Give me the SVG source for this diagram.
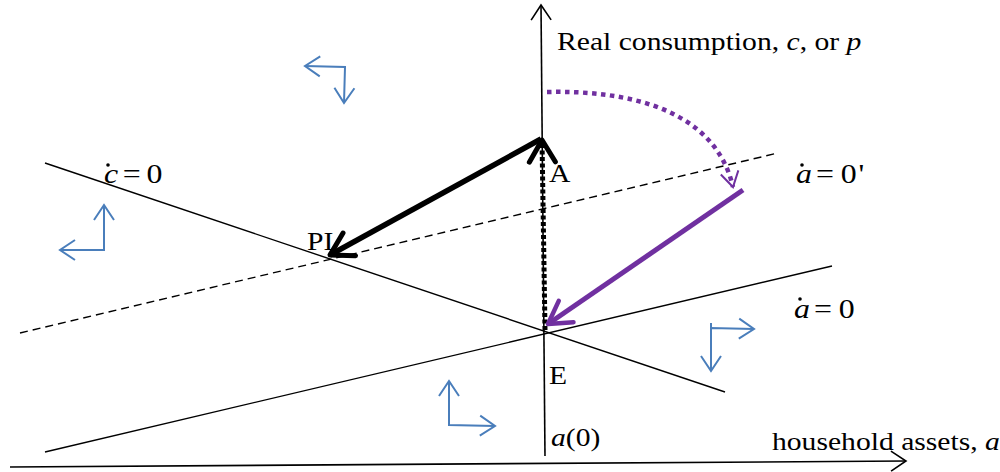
<svg xmlns="http://www.w3.org/2000/svg" width="1000" height="472" viewBox="0 0 1000 472">
  <style>
    .t { font-family: "Liberation Serif", "Times New Roman", serif; font-size: 26px; fill: #000; }
    .eq { font-family: "Liberation Serif", "Times New Roman", serif; font-size: 27px; fill: #000; }
    .i { font-style: italic; }
    .ax { stroke: #000; stroke-width: 1.6; fill: none; }
    .ln { stroke: #000; stroke-width: 1.4; fill: none; }
    .blue { stroke: #4A7EBB; stroke-width: 2; fill: none; }
  </style>
  <defs>
    <marker id="axh" markerUnits="userSpaceOnUse" orient="auto" overflow="visible" markerWidth="1" markerHeight="1" refX="0" refY="0">
      <path d="M-15,-10 L0,0 L-15,10" fill="none" stroke="#000" stroke-width="1.6"/>
    </marker>
    <marker id="bh" markerUnits="userSpaceOnUse" orient="auto-start-reverse" overflow="visible" markerWidth="1" markerHeight="1" refX="0" refY="0">
      <path d="M-15,-10 L0,0 L-15,10" fill="none" stroke="#4A7EBB" stroke-width="2"/>
    </marker>
    <marker id="kh" markerUnits="userSpaceOnUse" orient="auto" overflow="visible" markerWidth="1" markerHeight="1" refX="0" refY="0">
      <path d="M-22,-13 L0,0 L-22,13" fill="none" stroke="#000" stroke-width="5" stroke-linecap="round" stroke-linejoin="round"/>
    </marker>
    <marker id="ph" markerUnits="userSpaceOnUse" orient="auto" overflow="visible" markerWidth="1" markerHeight="1" refX="0" refY="0">
      <path d="M-22,-13 L0,0 L-22,13" fill="none" stroke="#7030A0" stroke-width="4.5" stroke-linecap="round" stroke-linejoin="round"/>
    </marker>
    <marker id="pth" markerUnits="userSpaceOnUse" orient="auto" overflow="visible" markerWidth="1" markerHeight="1" refX="0" refY="0">
      <path d="M-15,-9 L0,0 L-15,9" fill="none" stroke="#7030A0" stroke-width="2"/>
    </marker>
  </defs>

  <g id="axes">
    <line class="ax" x1="545" y1="456" x2="541" y2="5" marker-end="url(#axh)"/>
    <line class="ax" x1="10" y1="467" x2="906" y2="461" marker-end="url(#axh)"/>
  </g>

  <g id="curves">
    <line id="cdot0" class="ln" x1="45" y1="163" x2="725" y2="392"/>
    <line id="adot0" class="ln" x1="45" y1="452" x2="832" y2="266"/>
    <line id="adot0p" class="ln" x1="20" y1="333" x2="778" y2="153" stroke-dasharray="8 5"/>
  </g>

  <g id="connectors">
    <line x1="545" y1="330" x2="542" y2="140" stroke="#000" stroke-width="5" stroke-dasharray="4 2.5" marker-end="url(#kh)"/>
    <line x1="541" y1="139" x2="330" y2="255" stroke="#000" stroke-width="5.5" marker-end="url(#kh)"/>
    <line x1="743" y1="190" x2="548" y2="324" stroke="#7030A0" stroke-width="5" marker-end="url(#ph)"/>
    <path d="M547,92 C630,90 715,110 733,187" fill="none" stroke="#7030A0" stroke-width="4.5" stroke-dasharray="4.5 4.5" marker-end="url(#pth)"/>
  </g>

  <g id="phase-arrows">
    <polyline class="blue" points="305,66 345,67 344,103" marker-start="url(#bh)" marker-end="url(#bh)"/>
    <polyline class="blue" points="104,205 104,250 60,250" marker-start="url(#bh)" marker-end="url(#bh)"/>
    <polyline class="blue" points="449,381 449,425 495,426" marker-start="url(#bh)" marker-end="url(#bh)"/>
    <polyline class="blue" points="711,371 711,328 754,329" marker-start="url(#bh)" marker-end="url(#bh)"/>
    <line class="blue" x1="711" y1="328" x2="711" y2="323"/>
  </g>

  <g id="labels">
    <text class="t" transform="translate(557,50) scale(1.14,1)">Real consumption, <tspan class="i">c</tspan>, or <tspan class="i">p</tspan></text>
    <text class="t" transform="translate(549,182) scale(1.14,1)">A</text>
    <text class="t" transform="translate(307,250) scale(1.14,1)">PI</text>
    <text class="t" transform="translate(549,384) scale(1.14,1)">E</text>
    <text class="t" transform="translate(551,446) scale(1.14,1)"><tspan class="i">a</tspan>(0)</text>
    <text class="t" transform="translate(772,450) scale(1.14,1)">household assets, <tspan class="i">a</tspan></text>
  </g>

  <g id="eq-cdot">
    <g transform="translate(104,183) scale(1.18,1)">
      <text class="eq i" x="0" y="0">c</text>
      <text class="eq" x="16" y="0">=</text>
      <text class="eq" x="36" y="0">0</text>
    </g>
    <circle cx="108" cy="165" r="1.8" fill="#000"/>
  </g>
  <g id="eq-adot-prime">
    <g transform="translate(796,183) scale(1.18,1)">
      <text class="eq i" x="0" y="0">a</text>
      <text class="eq" x="17" y="0">=</text>
      <text class="eq" x="38" y="0">0</text>
      <text class="eq" x="53" y="0">'</text>
    </g>
    <circle cx="802" cy="165" r="1.8" fill="#000"/>
  </g>
  <g id="eq-adot">
    <g transform="translate(794,318) scale(1.18,1)">
      <text class="eq i" x="0" y="0">a</text>
      <text class="eq" x="17" y="0">=</text>
      <text class="eq" x="38" y="0">0</text>
    </g>
    <circle cx="800" cy="299" r="1.8" fill="#000"/>
  </g>
</svg>
